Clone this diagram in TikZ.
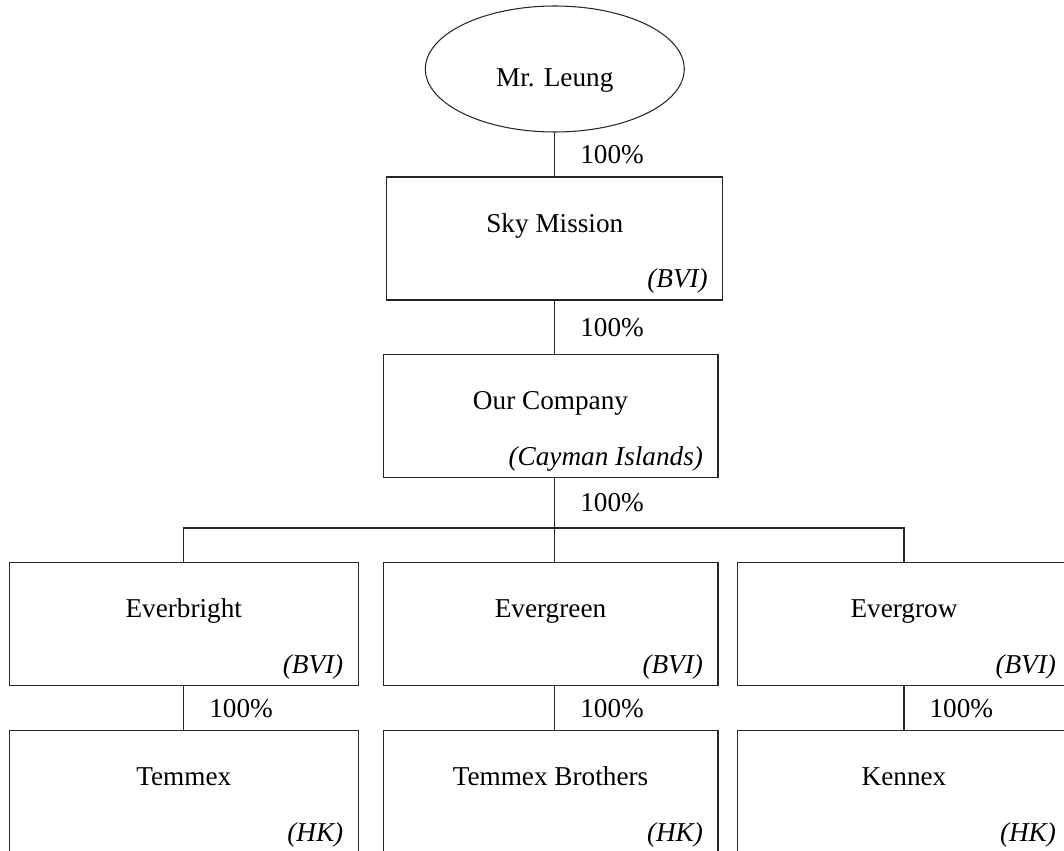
\documentclass[tikz,border=0pt]{standalone}
\usepackage{fontspec}
\setmainfont{Liberation Serif}
\usetikzlibrary{shapes.geometric, positioning}
\newcommand{\chartfont}{\fontsize{15.5pt}{18pt}\selectfont}
\tikzstyle{owner} = [ellipse, draw, minimum width=5.18cm, minimum height=2.52cm, inner sep=0pt, text height=0.8cm, text depth=0.08cm]
\tikzstyle{entity} = [rectangle, draw, minimum width=6.7cm, minimum height=2.46cm, inner sep=0pt, text height=0.5cm, text depth=0.76cm]
\tikzstyle{seat} = [anchor=base east, font=\chartfont\itshape, inner sep=0pt, xshift=-0.3cm, yshift=0.26cm]
\tikzstyle{pct} = [anchor=west, inner sep=0pt, xshift=0.5cm]
\tikzstyle{link} = [line width=0.6pt]
\tikzset{every node/.style={font=\chartfont}}

\begin{document}
\begin{tikzpicture}[x=0.02cm, y=-0.02cm, line width=0.6pt, draw=black!85]
    \path [use as bounding box, clip] (0,0) rectangle (1064,851);

    \node (boss) [owner] at (554.8,69) {Mr. Leung};
    \node (sky) [entity, minimum width=6.72cm] at (554.8,238.5) {Sky Mission};
    \node (ourco) [entity] at (550.5,416) {Our Company};
    \node (bright) [entity, minimum width=6.98cm] at (183.8,624.2) {Everbright};
    \node (green) [entity] at (550.5,624.2) {Evergreen};
    \node (grow) [entity, minimum width=6.68cm] at (904,624.2) {Evergrow};
    \node (temmex) [entity, minimum width=6.98cm] at (183.8,792.2) {Temmex};
    \node (brothers) [entity] at (550.5,792.2) {Temmex Brothers};
    \node (kennex) [entity, minimum width=6.68cm] at (904,792.2) {Kennex};

    \node (skyseat) [seat] at (sky.south east) {(BVI)};
    \node (ourseat) [seat] at (ourco.south east) {(Cayman Islands)};
    \node (brightseat) [seat] at (bright.south east) {(BVI)};
    \node (greenseat) [seat] at (green.south east) {(BVI)};
    \node (growseat) [seat] at (grow.south east) {(BVI)};
    \node (temmexseat) [seat] at (temmex.south east) {(HK)};
    \node (brothersseat) [seat] at (brothers.south east) {(HK)};
    \node (kennexseat) [seat] at (kennex.south east) {(HK)};

    \coordinate (bus) at (554.8,528);

    \draw [link] (boss) -- node (pct1) [pct] {100\%} (sky);
    \draw [link] (sky) -- node (pct2) [pct] {100\%} (sky.south |- ourco.north);
    \draw [link] (ourco.south -| bus) -- node (pct3) [pct] {100\%} (bus);
    \draw [link] (bright.north) |- (bus) -| (grow.north);
    \draw [link] (bus) -- (bus |- green.north);
    \draw [link] (bright) -- node (pct4) [pct] {100\%} (temmex);
    \draw [link] (green.south -| bus) -- node (pct5) [pct] {100\%} (bus |- brothers.north);
    \draw [link] (grow) -- node (pct6) [pct] {100\%} (kennex);
\end{tikzpicture}
\end{document}
